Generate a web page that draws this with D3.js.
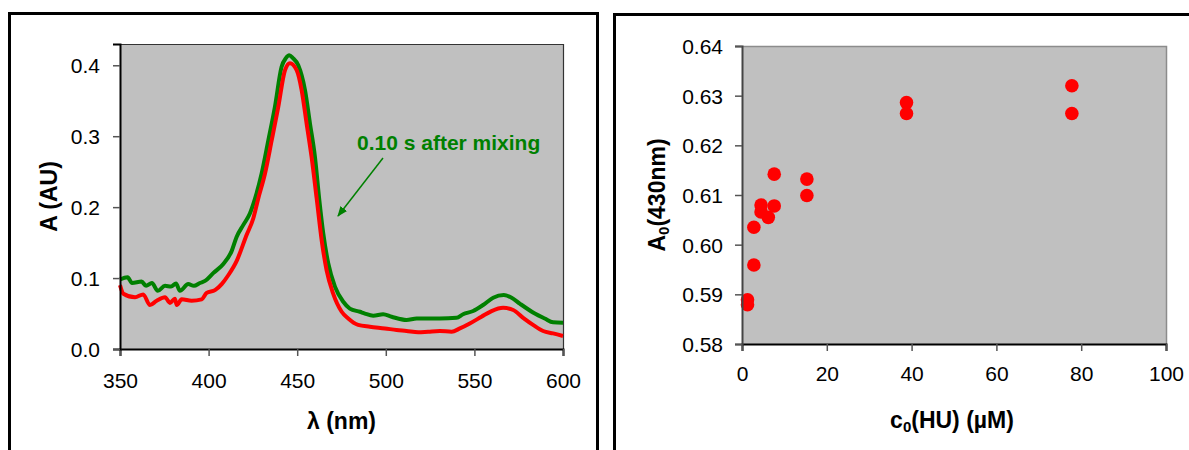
<!DOCTYPE html>
<html>
<head>
<meta charset="utf-8">
<script src="https://cdn.jsdelivr.net/npm/d3@7.9.0/dist/d3.min.js"></script>
<style>
  body { margin: 0; background: #fff; }
  svg { display: block; font-family: Arial, "Liberation Sans", sans-serif; }
</style>
</head>
<body>
<svg id="chart" width="1189" height="450"></svg>
<script>
// spectrum data (wavelength nm, absorbance AU)
const greenWl = [350, 354.3, 356.8, 362.2, 364.7, 368, 371.3, 375.4, 378.8, 381.6, 383.8, 388.5, 391.7, 395.1, 398,
  402.6, 408.3, 413, 415.8, 419.6, 423.3, 426.2, 429.9, 433.7, 437.4, 441.2, 443.6, 445.5, 447.6, 450.6, 454.4,
  457.2, 460, 462.4, 464.7, 467.5, 471.3, 476, 479.7, 485.4, 488.2, 492.9, 498.5, 503.3, 511.7, 517.4, 524.9,
  530.5, 539.9, 543.6, 549.3, 554.9, 560.6, 566.6, 571, 575.6, 584.1, 589.7, 594.4, 600];
const greenA = [0.098, 0.101, 0.093, 0.095, 0.089, 0.093, 0.082, 0.089, 0.088, 0.0925, 0.082, 0.0915, 0.089, 0.093, 0.096,
  0.107, 0.12, 0.138, 0.158, 0.175, 0.191, 0.212, 0.247, 0.294, 0.341, 0.398, 0.41, 0.414, 0.41, 0.4, 0.365,
  0.318, 0.271, 0.212, 0.163, 0.121, 0.088, 0.0666, 0.057, 0.0525, 0.05, 0.047, 0.049, 0.0455, 0.041, 0.043, 0.043,
  0.043, 0.044, 0.049, 0.0535, 0.062, 0.0723, 0.076, 0.0723, 0.064, 0.05, 0.043, 0.0376, 0.037];

const redWl = [350, 351.9, 358.5, 363.1, 366.9, 370.7, 375.4, 378.2, 381, 382, 384.8, 390.4, 396.1, 398.9, 403.6,
  407.4, 411.1, 415.8, 421.5, 425.2, 428, 431.8, 435.6, 439.3, 443.1, 445.9, 449.7, 452.5, 455.3, 458.1, 461,
  463.8, 466.6, 470.3, 475.1, 478.8, 484.4, 491, 499.5, 506.1, 511.7, 518.3, 523.9, 530.5, 537.1, 541.8, 547.4,
  554, 559.7, 566.2, 571.9, 577.5, 583.1, 588.8, 594.4, 600];
const redA = [0.09, 0.078, 0.073, 0.077, 0.062, 0.068, 0.073, 0.065, 0.071, 0.062, 0.07, 0.068, 0.07, 0.079, 0.083,
  0.0915, 0.104, 0.124, 0.161, 0.184, 0.212, 0.247, 0.294, 0.341, 0.393, 0.403, 0.393, 0.365, 0.318, 0.271, 0.212,
  0.1535, 0.111, 0.078, 0.0525, 0.043, 0.034, 0.0314, 0.029, 0.0268, 0.0254, 0.0235, 0.0244, 0.0254, 0.0244, 0.029, 0.036,
  0.0455, 0.0535, 0.058, 0.055, 0.044, 0.034, 0.0254, 0.022, 0.0183];

const specXTicks = [350, 400, 450, 500, 550, 600];
const specYTicks = [0.0, 0.1, 0.2, 0.3, 0.4];

// titration data: c0(HU) in uM vs A0(430nm)
const hu = [7.6, 15.3, 15.3, 4.5, 7.6, 4.5, 6.2, 2.8, 2.8, 1.3, 1.3, 38.8, 38.8, 77.8, 77.8];
const a0 = [0.6142, 0.6132, 0.6099, 0.6080, 0.6078, 0.6066, 0.6055, 0.6035, 0.5959, 0.5889, 0.5879, 0.6286, 0.6264, 0.6320, 0.6264];

const huXTicks = [0, 20, 40, 60, 80, 100];
const a0YTicks = [0.58, 0.59, 0.60, 0.61, 0.62, 0.63, 0.64];

const svg = d3.select("#chart");
const plotBg = "#c0c0c0";
const tickFont = 21;

// outer frames around the two panels
svg.append("path")
  .attr("d", "M9.5,460 V13.5 H597.5 V460")
  .attr("fill", "none").attr("stroke", "#000").attr("stroke-width", 3);
svg.append("path")
  .attr("d", "M614.5,460 V14.5 H1200")
  .attr("fill", "none").attr("stroke", "#000").attr("stroke-width", 3);

// ---------- left panel: spectra ----------
const L = { left: 120, right: 563, top: 44, bottom: 349 };
const xL = d3.scaleLinear().domain([350, 600]).range([L.left, L.right]);
const yL = d3.scaleLinear().domain([0, 0.43]).range([L.bottom, L.top]);

svg.append("rect")
  .attr("x", L.left).attr("y", L.top)
  .attr("width", L.right - L.left).attr("height", L.bottom - L.top)
  .attr("fill", plotBg);
svg.append("path")
  .attr("d", `M${L.left},${L.top + 0.5} H${L.right + 0.5} V${L.bottom}`)
  .attr("fill", "none").attr("stroke", "#333").attr("stroke-width", 1.2);

// monotone keeps the peak round without overshooting the wiggles
const line = d3.line().curve(d3.curveMonotoneX).x(d => xL(d[0])).y(d => yL(d[1]));

svg.append("path")
  .datum(d3.zip(greenWl, greenA))
  .attr("d", line)
  .attr("fill", "none").attr("stroke", "#008000").attr("stroke-width", 4)
  .attr("stroke-linejoin", "round");
svg.append("path")
  .datum(d3.zip(redWl, redA))
  .attr("d", line)
  .attr("fill", "none").attr("stroke", "#ff0000").attr("stroke-width", 4)
  .attr("stroke-linejoin", "round");

const gxL = svg.append("g")
  .attr("transform", `translate(0,${L.bottom})`)
  .call(d3.axisBottom(xL).tickValues(specXTicks).tickSize(7).tickPadding(17).tickFormat(d3.format("d")));
const gyL = svg.append("g")
  .attr("transform", `translate(${L.left},0)`)
  .call(d3.axisLeft(yL).tickValues(specYTicks).tickSize(7).tickPadding(13).tickFormat(d3.format(".1f")));

[gxL, gyL].forEach(g => {
  g.attr("font-size", tickFont).attr("font-family", "Arial, 'Liberation Sans', sans-serif");
  g.select(".domain").attr("stroke", "#000").attr("stroke-width", 2);
  g.selectAll(".tick line").attr("stroke", "#555").attr("stroke-width", 1.5);
  g.selectAll(".tick text").attr("font-size", tickFont).attr("fill", "#000");
});
gyL.selectAll(".tick text").attr("dy", "0.36em");

svg.append("text")
  .attr("x", (L.left + L.right) / 2).attr("y", 429)
  .attr("text-anchor", "middle")
  .attr("font-size", 23).attr("font-weight", "bold")
  .text("λ (nm)");
svg.append("text")
  .attr("transform", `translate(57,${(L.top + L.bottom) / 2}) rotate(-90)`)
  .attr("text-anchor", "middle")
  .attr("font-size", 23).attr("font-weight", "bold")
  .text("A (AU)");

// annotation + arrow
svg.append("defs").append("marker")
  .attr("id", "arrow").attr("viewBox", "0 0 10 10")
  .attr("refX", 9).attr("refY", 5)
  .attr("markerWidth", 7).attr("markerHeight", 7)
  .attr("orient", "auto")
  .append("path").attr("d", "M0,1 L10,5 L0,9 z").attr("fill", "#008000");
svg.append("text")
  .attr("x", 357).attr("y", 150)
  .attr("font-size", 21).attr("font-weight", "bold").attr("fill", "#008000")
  .text("0.10 s after mixing");
svg.append("line")
  .attr("x1", 383).attr("y1", 158).attr("x2", 338).attr("y2", 216)
  .attr("stroke", "#008000").attr("stroke-width", 1.5)
  .attr("marker-end", "url(#arrow)");

// ---------- right panel: A0 vs c0(HU) ----------
const R = { left: 742, right: 1166, top: 46, bottom: 344 };
const xR = d3.scaleLinear().domain([0, 100]).range([R.left, R.right]);
const yR = d3.scaleLinear().domain([0.58, 0.64]).range([R.bottom, R.top]);

svg.append("rect")
  .attr("x", R.left).attr("y", R.top)
  .attr("width", R.right - R.left).attr("height", R.bottom - R.top)
  .attr("fill", plotBg);
svg.append("path")
  .attr("d", `M${R.left},${R.top + 0.5} H${R.right + 0.5} V${R.bottom}`)
  .attr("fill", "none").attr("stroke", "#8c8c8c").attr("stroke-width", 1.5);

svg.append("g")
  .selectAll("circle")
  .data(d3.zip(hu, a0))
  .join("circle")
  .attr("cx", d => xR(d[0]))
  .attr("cy", d => yR(d[1]))
  .attr("r", 6.8)
  .attr("fill", "#ff0000");

const gxR = svg.append("g")
  .attr("transform", `translate(0,${R.bottom})`)
  .call(d3.axisBottom(xR).tickValues(huXTicks).tickSize(7).tickPadding(15).tickFormat(d3.format("d")));
const gyR = svg.append("g")
  .attr("transform", `translate(${R.left},0)`)
  .call(d3.axisLeft(yR).tickValues(a0YTicks).tickSize(7).tickPadding(12).tickFormat(d3.format(".2f")));

[gxR, gyR].forEach(g => {
  g.attr("font-size", tickFont).attr("font-family", "Arial, 'Liberation Sans', sans-serif");
  g.select(".domain").attr("stroke", "#000").attr("stroke-width", 2);
  g.selectAll(".tick line").attr("stroke", "#555").attr("stroke-width", 1.5);
  g.selectAll(".tick text").attr("font-size", tickFont).attr("fill", "#000");
});
gyR.select(".domain").attr("stroke", "#444");
gyR.selectAll(".tick text").attr("dy", "0.36em");

const xt = svg.append("text")
  .attr("x", 952).attr("y", 428)
  .attr("text-anchor", "middle")
  .attr("font-size", 23).attr("font-weight", "bold");
xt.append("tspan").text("c");
xt.append("tspan").attr("font-size", 15).attr("dy", 4).text("0");
xt.append("tspan").attr("dy", -4).text("(HU) (µM)");

const yt = svg.append("text")
  .attr("transform", `translate(665,${(R.top + R.bottom) / 2}) rotate(-90)`)
  .attr("text-anchor", "middle")
  .attr("font-size", 23).attr("font-weight", "bold");
yt.append("tspan").text("A");
yt.append("tspan").attr("font-size", 15).attr("dy", 4).text("0");
yt.append("tspan").attr("dy", -4).text("(430nm)");
</script>
</body>
</html>
